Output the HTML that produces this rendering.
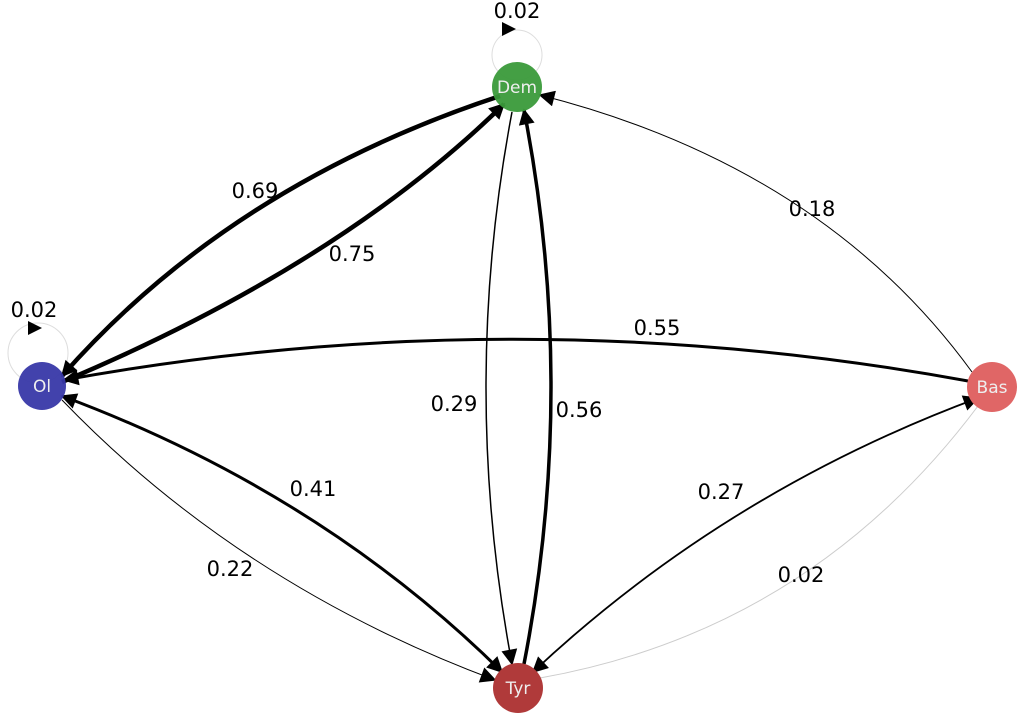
<!DOCTYPE html>
<html><head><meta charset="utf-8"><style>
html,body{margin:0;padding:0;background:#fff;width:1024px;height:726px;overflow:hidden}
text{font-family:"DejaVu Sans","Liberation Sans",sans-serif}
</style></head><body>
<svg width="1024" height="726" viewBox="0 0 1024 726" xmlns="http://www.w3.org/2000/svg">
<defs>
<marker id="a" viewBox="0 0 10 10" refX="9" refY="5" markerWidth="18" markerHeight="16" markerUnits="userSpaceOnUse" orient="auto-start-reverse"><path d="M0,0L10,5L0,10z" fill="#000"/></marker>
</defs>
<g fill="none" stroke="#000">
<circle cx="517" cy="55" r="25" stroke="#ddd" stroke-width="1"/>
<circle cx="38" cy="353" r="30" stroke="#ddd" stroke-width="1"/>
<path d="M500,96 Q230,185 62,376" stroke-width="4.5" marker-end="url(#a)"/>
<path d="M62,382 Q340,265 504,104" stroke-width="4.5" marker-end="url(#a)"/>
<path d="M968,381 Q516,298 64,380" stroke-width="3" marker-end="url(#a)"/>
<path d="M972,372 Q823,167 540,95" stroke-width="1" marker-end="url(#a)"/>
<path d="M512,112 Q460,387 512,664" stroke-width="1.5" marker-end="url(#a)"/>
<path d="M524,664 Q578,387 524,110" stroke-width="3.5" marker-end="url(#a)"/>
<path d="M502,672 Q320,492 62,396" stroke-width="3" marker-end="url(#a)" marker-start="url(#a)"/>
<path d="M62,400 Q240,585 495,680" stroke-width="1" marker-end="url(#a)"/>
<path d="M533,672 Q725,492 978,398" stroke-width="1.8" marker-end="url(#a)" marker-start="url(#a)"/>
<path d="M540,678 Q810,630 978,406" stroke="#ccc" stroke-width="1"/>
</g>
<path d="M502,22 L516,29 L502,36z" fill="#000"/>
<path d="M28,321 L42,328 L28,335z" fill="#000"/>
<circle cx="517" cy="87" r="25" fill="#3a9a3a" fill-opacity="0.95"/>
<circle cx="42" cy="386" r="24" fill="#3838a8" fill-opacity="0.95"/>
<circle cx="992" cy="387" r="25" fill="#e06666"/>
<circle cx="518" cy="688" r="25" fill="#b03a3a"/>
<g fill="#eee" font-size="17" text-anchor="middle">
<text x="517" y="93">Dem</text><text x="42" y="392">Ol</text><text x="992" y="393">Bas</text><text x="518" y="694">Tyr</text>
</g>
<g fill="#000" font-size="21" text-anchor="middle">
<text x="517" y="18">0.02</text>
<text x="34" y="317">0.02</text>
<text x="255" y="198">0.69</text>
<text x="352" y="261">0.75</text>
<text x="812" y="216">0.18</text>
<text x="657" y="335">0.55</text>
<text x="454" y="411">0.29</text>
<text x="579" y="417">0.56</text>
<text x="313" y="496">0.41</text>
<text x="721" y="499">0.27</text>
<text x="230" y="576">0.22</text>
<text x="801" y="582">0.02</text>
</g>
</svg>
</body></html>
